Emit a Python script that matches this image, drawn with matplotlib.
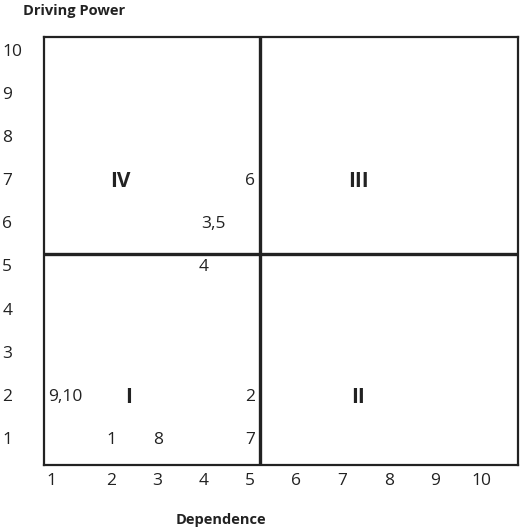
import numpy as np
import matplotlib.pyplot as plt
from matplotlib.transforms import ScaledTranslation

plt.rcParams['font.family'] = ['Open Sans', 'DejaVu Sans']

# 変数のラベルと (Dependence, Driving Power)
var_labels = ['9,10', '1', '8', '7', '2', '4', '3,5', '6']
dependence = [1, 2, 3, 5, 5, 4, 4.2, 5]
driving_power = [2, 1, 1, 1, 2, 5, 6, 7]

quadrant_names = ['I', 'II', 'III', 'IV']
quadrant_x = [2.38, 7.34, 7.34, 2.2]
quadrant_y = [2, 2, 7, 7]

ticks = list(range(1, 11))
x_cut = 5.22
y_cut = 5.27

fig = plt.figure(figsize=(5.2, 5.32), dpi=100)
ax = fig.add_axes([44 / 520, 1 - 465 / 532, 474 / 520, 428 / 532])
ax.set_xlim(0.54, 10.8)
ax.set_ylim(0.37, 10.30)

line_color = '#222222'
for s in ax.spines.values():
    s.set_linewidth(1.6)
    s.set_color(line_color)

ax.axvline(x_cut, color=line_color, lw=2.4)
ax.axhline(y_cut, color=line_color, lw=2.4)

# 変数ラベル
for lab, x, y in zip(var_labels, dependence, driving_power):
    ax.text(x, y, lab, ha='center', va='center_baseline', fontsize=12.5, color='#222222')

# 象限ラベル
for lab, x, y in zip(quadrant_names, quadrant_x, quadrant_y):
    ax.text(x, y, lab, ha='center', va='center_baseline', fontsize=15,
            fontweight='bold', color='#222222')

ax.set_xticks(ticks)
ax.set_yticks(ticks)
ax.set_xticklabels([str(t) for t in ticks], fontsize=12.5, color='#222222')
ax.set_yticklabels([str(t) for t in ticks], fontsize=12.5, color='#222222')
ax.tick_params(axis='x', length=0, pad=6)
ax.tick_params(axis='y', length=0, pad=30)
for lbl in ax.yaxis.get_ticklabels():
    lbl.set_horizontalalignment('left')
    lbl.set_verticalalignment('center_baseline')
# 横軸の「1」だけ左に寄せる
first = ax.xaxis.get_ticklabels()[0]
first.set_transform(first.get_transform() + ScaledTranslation(-0.14, 0, fig.dpi_scale_trans))

fig.text(23 / 520, 1 - 11 / 532, 'Driving Power', fontsize=10.5, fontweight='bold',
         ha='left', va='center', color='#222222')
fig.text(221 / 520, 1 - 520 / 532, 'Dependence', fontsize=10.5, fontweight='bold',
         ha='center', va='center', color='#222222')

fig.savefig('out.png', dpi=100)
